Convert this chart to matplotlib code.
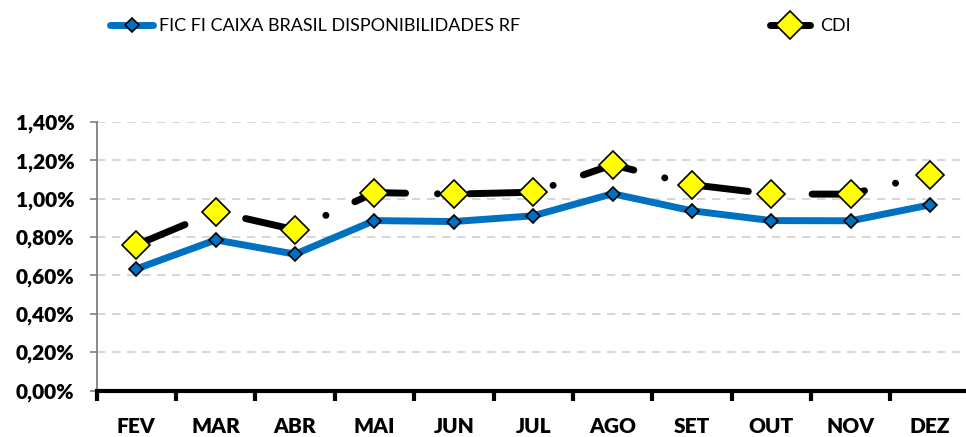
import matplotlib
matplotlib.use('Agg')
import matplotlib.pyplot as plt
from matplotlib.ticker import FuncFormatter

meses = ['FEV', 'MAR', 'ABR', 'MAI', 'JUN', 'JUL', 'AGO', 'SET', 'OUT', 'NOV', 'DEZ']
fundo = [0.634, 0.785, 0.711, 0.886, 0.881, 0.911, 1.026, 0.937, 0.886, 0.885, 0.968]
cdi = [0.759, 0.932, 0.838, 1.032, 1.024, 1.034, 1.177, 1.073, 1.024, 1.024, 1.125]
nome_fundo = 'FIC FI CAIXA BRASIL DISPONIBILIDADES RF'
nome_cdi = 'CDI'

plt.rcParams['font.family'] = ['Lato', 'DejaVu Sans']

fig = plt.figure(figsize=(9.66, 4.37), dpi=100)
ax = fig.add_axes([0.100, 0.1064, 0.904, 0.6144])

x = list(range(len(meses)))
l1, = ax.plot(x, fundo, color='#0070C0', lw=5, solid_capstyle='round', solid_joinstyle='round',
              marker='D', markersize=7.5, markerfacecolor='#0070C0', markeredgecolor='black',
              markeredgewidth=1.2, zorder=3)
l2, = ax.plot(x, cdi, color='black', lw=5, linestyle=(0, (7.6, 4.6, 0.01, 4.6)),
              dash_capstyle='round', marker='D', markersize=14, markerfacecolor='#FFFF00',
              markeredgecolor='black', markeredgewidth=1.2, zorder=4)

ax.set_xlim(-0.5, len(meses) - 0.5)
ax.set_ylim(0, 1.4)
ax.set_yticks([0, 0.2, 0.4, 0.6, 0.8, 1.0, 1.2, 1.4])
ax.yaxis.set_major_formatter(FuncFormatter(lambda v, p: f'{v:.2f}%'.replace('.', ',')))
ax.set_xticks(x)
ax.set_xticklabels(meses)
ax.set_xticks([i - 0.5 for i in range(len(meses) + 1)], minor=True)
ax.tick_params(axis='x', which='major', length=0, pad=19)
ax.tick_params(axis='x', which='minor', length=7, width=3, color='black', direction='out')
ax.tick_params(axis='y', length=5, width=1.2, color='#808080', pad=11)
for lab in ax.get_xticklabels() + ax.get_yticklabels():
    lab.set_fontweight('heavy')
    lab.set_fontsize(15)

ax.grid(axis='y', color='#d0d0d0', linestyle=(0, (5, 4)), lw=1.2)
ax.set_axisbelow(True)
for s in ['top', 'right']:
    ax.spines[s].set_visible(False)
ax.spines['left'].set_color('#808080')
ax.spines['left'].set_linewidth(1.3)
ax.spines['bottom'].set_color('black')
ax.spines['bottom'].set_linewidth(3)
ax.spines['bottom'].set_zorder(5)

fonte_leg = {'family': ['Lato', 'DejaVu Sans'], 'size': 13}
leg1 = fig.legend([l1], [nome_fundo], loc='center left', bbox_to_anchor=(0.114, 0.94),
                  frameon=False, prop=fonte_leg, handlelength=2.4, handletextpad=0.3,
                  borderaxespad=0, borderpad=0)
leg2 = fig.legend([l2], [nome_cdi], loc='center left', bbox_to_anchor=(0.797, 0.94),
                  frameon=False, prop=fonte_leg, handlelength=2.2, handletextpad=0.6,
                  borderaxespad=0, borderpad=0)

fig.savefig('out.png', dpi=100)
